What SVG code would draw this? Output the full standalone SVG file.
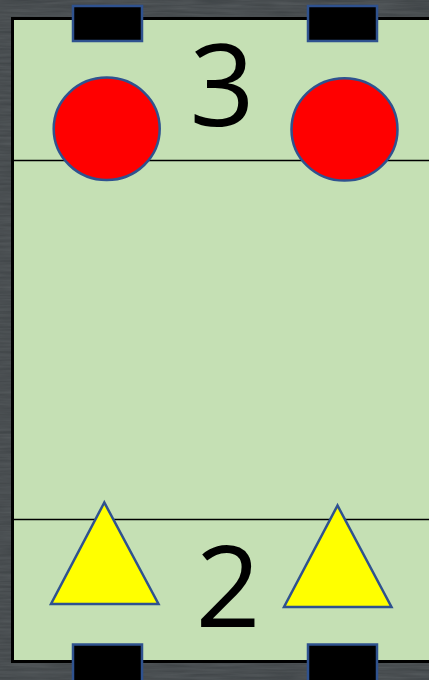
<svg xmlns="http://www.w3.org/2000/svg" width="429" height="680" viewBox="0 0 429 680">
  <defs>
    <filter id="chalk" x="0" y="0" width="100%" height="100%">
      <feTurbulence type="fractalNoise" baseFrequency="0.02 0.35" numOctaves="3" seed="4" result="n"/>
      <feColorMatrix in="n" type="matrix" values="0 0 0 0 0.24  0 0 0 0 0.26  0 0 0 0 0.27  0 0 0 0.6 0" result="c"/>
      <feComposite in="c" in2="SourceGraphic" operator="in"/>
    </filter>
    <style>
      .goal { fill: #000000; stroke: #2F528F; stroke-width: 2.5; }
      .ball { fill: #FF0000; stroke: #2F528F; stroke-width: 2.5; }
      .cone { fill: #FFFF00; stroke: #2F528F; stroke-width: 2.5; stroke-linejoin: miter; }
      .zone { stroke: #000000; stroke-width: 1.3; fill: none; }
      .num { font-family: "Open Sans", "Liberation Sans", sans-serif; font-size: 114px; fill: #000000; text-anchor: middle; }
    </style>
  </defs>
  <rect x="0" y="0" width="429" height="680" fill="#3c4144"/>
  <rect x="0" y="0" width="429" height="680" fill="#5a6064" filter="url(#chalk)" opacity="0.6"/>
  <g id="field">
    <rect x="12.5" y="18.5" width="440" height="643" fill="#C5E0B4" stroke="#000000" stroke-width="3"/>
  </g>
  <g id="connectors">
    <line class="zone" x1="14" y1="160.5" x2="429" y2="160.5"/>
    <line class="zone" x1="14" y1="519.5" x2="429" y2="519.5"/>
  </g>
  <g id="goal-top-left"><rect class="goal" x="73" y="6" width="69" height="35"/></g>
  <g id="goal-top-right"><rect class="goal" x="308" y="6" width="69" height="35"/></g>
  <g id="goal-bottom-left"><rect class="goal" x="73" y="644.5" width="69" height="40"/></g>
  <g id="goal-bottom-right"><rect class="goal" x="308" y="644.5" width="69" height="40"/></g>
  <g id="ball-left"><ellipse class="ball" cx="106.7" cy="128.8" rx="53" ry="51.2"/></g>
  <g id="ball-right"><ellipse class="ball" cx="344.5" cy="129.4" rx="53" ry="51.2"/></g>
  <g id="cone-left"><polygon class="cone" points="104.3,502.5 51,604 158.5,604"/></g>
  <g id="cone-right"><polygon class="cone" points="337.5,505.5 284,607 391.5,607"/></g>
  <g id="label-3"><text class="num" x="222" y="126">3</text></g>
  <g id="label-2"><text class="num" x="228" y="627">2</text></g>
</svg>
